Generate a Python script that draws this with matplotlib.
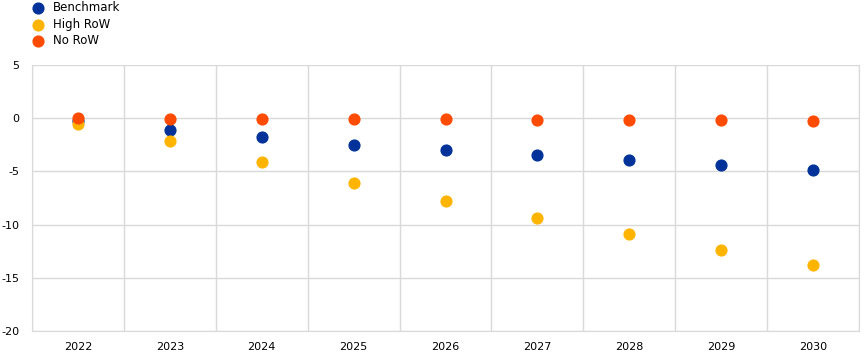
import numpy as np
import matplotlib.pyplot as plt

plt.rcParams['axes.unicode_minus'] = False

years = ['2022', '2023', '2024', '2025', '2026', '2027', '2028', '2029', '2030']
benchmark = [-0.3, -1.1, -1.8, -2.5, -3.0, -3.5, -3.9, -4.4, -4.9]
high_row = [-0.55, -2.15, -4.1, -6.1, -7.8, -9.4, -10.9, -12.4, -13.8]
no_row = [0.0, -0.05, -0.05, -0.1, -0.1, -0.15, -0.2, -0.2, -0.25]

fig = plt.figure(figsize=(8.68, 3.57), dpi=100)
ax = fig.add_axes([32 / 868, 1 - 331 / 357, 827 / 868, 266 / 357])

x = np.arange(len(years))
ax.scatter(x, benchmark, s=60, color='#003299', label='Benchmark', zorder=3)
ax.scatter(x, high_row, s=60, color='#FFB400', label='High RoW', zorder=3)
ax.scatter(x, no_row, s=60, color='#FF4B00', label='No RoW', zorder=3)

ax.set_xlim(-0.5, len(years) - 0.5)
ax.set_ylim(-20, 5)
ax.set_yticks([5, 0, -5, -10, -15, -20])
ax.set_xticks(x)
ax.set_xticklabels(years)
ax.set_xticks(np.arange(-0.5, len(years), 1), minor=True)
ax.grid(axis='y', color='#d9d9d9', lw=1)
ax.grid(axis='x', which='minor', color='#d9d9d9', lw=1)
ax.set_axisbelow(True)
ax.tick_params(which='both', length=0, labelsize=8, pad=8)
ax.tick_params(axis='y', pad=9)
for s in ax.spines.values():
    s.set_color('#d9d9d9')
ax.spines['top'].set_visible(False)

ax.legend(loc='upper left', bbox_to_anchor=(0.0, 1.24), frameon=False, fontsize=8.5,
          handletextpad=0.8, labelspacing=0.3, borderaxespad=0, handlelength=1.0,
          borderpad=0)

fig.savefig('out.png', dpi=100)
